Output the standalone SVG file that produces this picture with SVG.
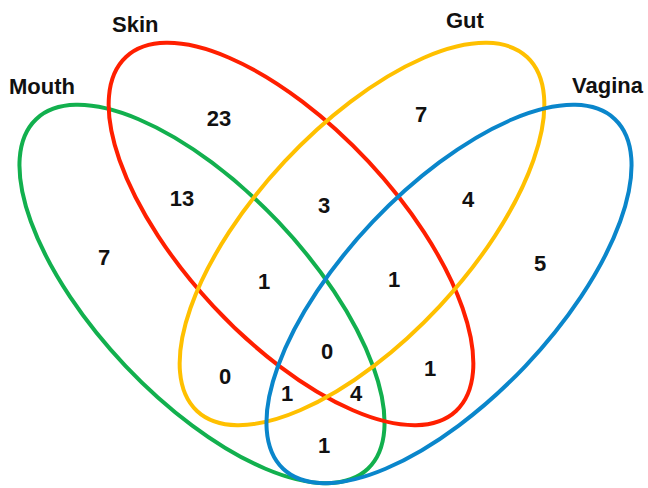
<svg xmlns="http://www.w3.org/2000/svg" width="648" height="488" viewBox="0 0 648 488">
<style>
.e{fill:none;stroke-width:4}
.lab{font-family:"Liberation Sans",Arial,sans-serif;font-weight:bold;font-size:22px;fill:#111}
.n{font-family:"Liberation Sans",Arial,sans-serif;font-weight:bold;font-size:22px;fill:#111;text-anchor:middle}
</style>
<rect width="648" height="488" fill="#fff"/>
<g id="connectors"></g>
<g id="mouth"><ellipse class="e" stroke="#12b04e" cx="202" cy="294" rx="241" ry="105" transform="rotate(46.5 202 294)"/><text class="lab" x="9" y="94">Mouth</text></g>
<g id="skin"><ellipse class="e" stroke="#ff1f00" cx="291" cy="234" rx="242" ry="106" transform="rotate(47 291 234)"/><text class="lab" x="112" y="32">Skin</text></g>
<g id="gut"><ellipse class="e" stroke="#ffc000" cx="362" cy="234" rx="242" ry="106" transform="rotate(-47 362 234)"/><text class="lab" x="446" y="28">Gut</text></g>
<g id="vagina"><ellipse class="e" stroke="#0a86cb" cx="449" cy="294" rx="241" ry="105" transform="rotate(-46.5 449 294)"/><text class="lab" x="572" y="93">Vagina</text></g>
<g id="counts">
<text class="n" x="219" y="126">23</text>
<text class="n" x="182" y="206">13</text>
<text class="n" x="104" y="265">7</text>
<text class="n" x="264" y="289">1</text>
<text class="n" x="225" y="384">0</text>
<text class="n" x="287" y="401">1</text>
<text class="n" x="324" y="453">1</text>
<text class="n" x="327" y="359">0</text>
<text class="n" x="356" y="401">4</text>
<text class="n" x="430" y="376">1</text>
<text class="n" x="394" y="287">1</text>
<text class="n" x="540" y="271">5</text>
<text class="n" x="421" y="122">7</text>
<text class="n" x="468" y="207">4</text>
<text class="n" x="324" y="213">3</text>
</g>
</svg>
